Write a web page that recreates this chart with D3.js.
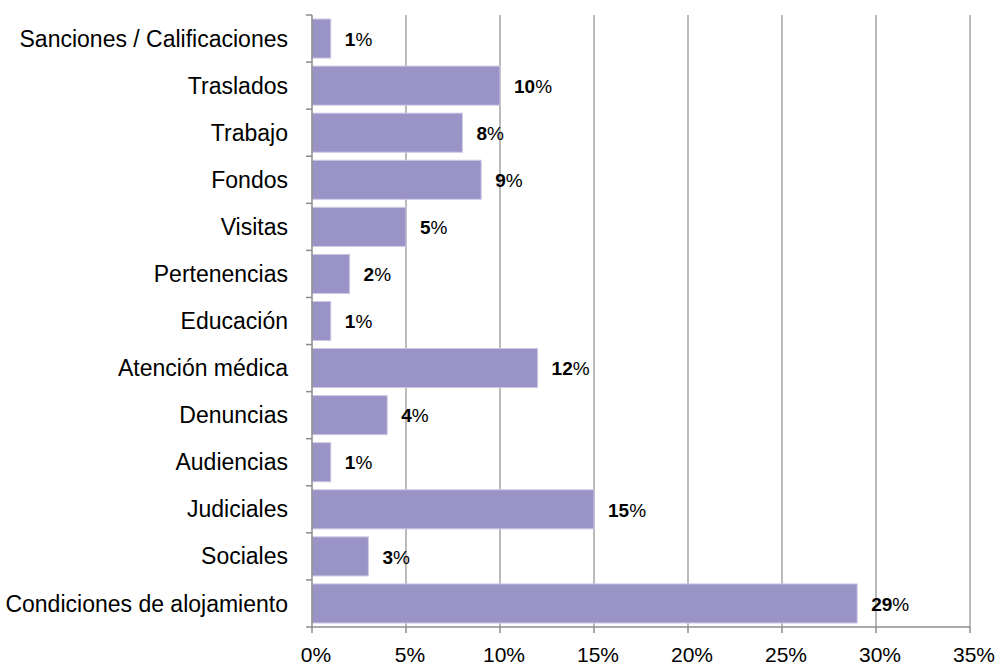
<!DOCTYPE html>
<html>
<head>
<meta charset="utf-8">
<script src="https://cdn.jsdelivr.net/npm/d3@7"></script>
<style>
  body { margin: 0; background: #fff; }
  text { font-family: "Liberation Sans", Arial, sans-serif; }
</style>
</head>
<body>
<svg id="chart" width="1002" height="666"></svg>
<script>
const categories = ["Sanciones / Calificaciones", "Traslados", "Trabajo", "Fondos", "Visitas",
  "Pertenencias", "Educación", "Atención médica", "Denuncias", "Audiencias",
  "Judiciales", "Sociales", "Condiciones de alojamiento"];
const values = [1, 10, 8, 9, 5, 2, 1, 12, 4, 1, 15, 3, 29];
const xTicks = [0, 5, 10, 15, 20, 25, 30, 35];

const svg = d3.select("#chart");
const plotLeft = 312, plotRight = 970, plotTop = 15, plotBottom = 627;

const x = d3.scaleLinear().domain([0, 35]).range([plotLeft, plotRight]);
const y = d3.scaleBand().domain(categories).range([plotTop, plotBottom]).paddingInner(0.17).paddingOuter(0.085);

// gridlines
xTicks.slice(1).forEach(t => {
  svg.append("line")
    .attr("x1", x(t)).attr("x2", x(t))
    .attr("y1", plotTop).attr("y2", plotBottom)
    .attr("stroke", "#8c8c8c").attr("stroke-width", 1.2);
});

// bars
svg.selectAll(".bar").data(values).enter().append("rect")
  .attr("x", x(0))
  .attr("y", (d, i) => y(categories[i]))
  .attr("width", d => x(d) - x(0))
  .attr("height", y.bandwidth())
  .attr("fill", "#9a93c6")
  .attr("stroke", "#cdc9e6")
  .attr("stroke-width", 1);

// y axis
svg.append("line").attr("x1", plotLeft).attr("x2", plotLeft).attr("y1", plotTop).attr("y2", plotBottom)
  .attr("stroke", "#8c8c8c").attr("stroke-width", 1.5);
const step = (plotBottom - plotTop) / categories.length;
d3.range(categories.length + 1).forEach(i => {
  svg.append("line").attr("x1", plotLeft - 6).attr("x2", plotLeft)
    .attr("y1", plotTop + i * step).attr("y2", plotTop + i * step)
    .attr("stroke", "#8c8c8c").attr("stroke-width", 1.5);
});

// x axis
svg.append("line").attr("x1", plotLeft).attr("x2", plotRight).attr("y1", plotBottom).attr("y2", plotBottom)
  .attr("stroke", "#8c8c8c").attr("stroke-width", 1.5);
xTicks.forEach(t => {
  svg.append("line").attr("x1", x(t)).attr("x2", x(t)).attr("y1", plotBottom).attr("y2", plotBottom + 6)
    .attr("stroke", "#8c8c8c").attr("stroke-width", 1.5);
  svg.append("text")
    .attr("x", x(t) + 4).attr("y", 662)
    .attr("text-anchor", "middle")
    .attr("font-size", "21px")
    .attr("fill", "#000")
    .text(t + "%");
});

// category labels
categories.forEach((c, i) => {
  svg.append("text")
    .attr("x", 288)
    .attr("y", plotTop + i * step + step / 2)
    .attr("dy", "0.35em")
    .attr("text-anchor", "end")
    .attr("font-size", "23px")
    .attr("fill", "#000")
    .text(c);
});

// value labels
values.forEach((v, i) => {
  const t = svg.append("text")
    .attr("x", x(v) + 14)
    .attr("y", y(categories[i]) + y.bandwidth() / 2)
    .attr("dy", "0.38em")
    .attr("font-size", "19px")
    .attr("fill", "#000");
  t.append("tspan").attr("font-weight", "bold").text(v);
  t.append("tspan").text("%");
});
</script>
</body>
</html>
